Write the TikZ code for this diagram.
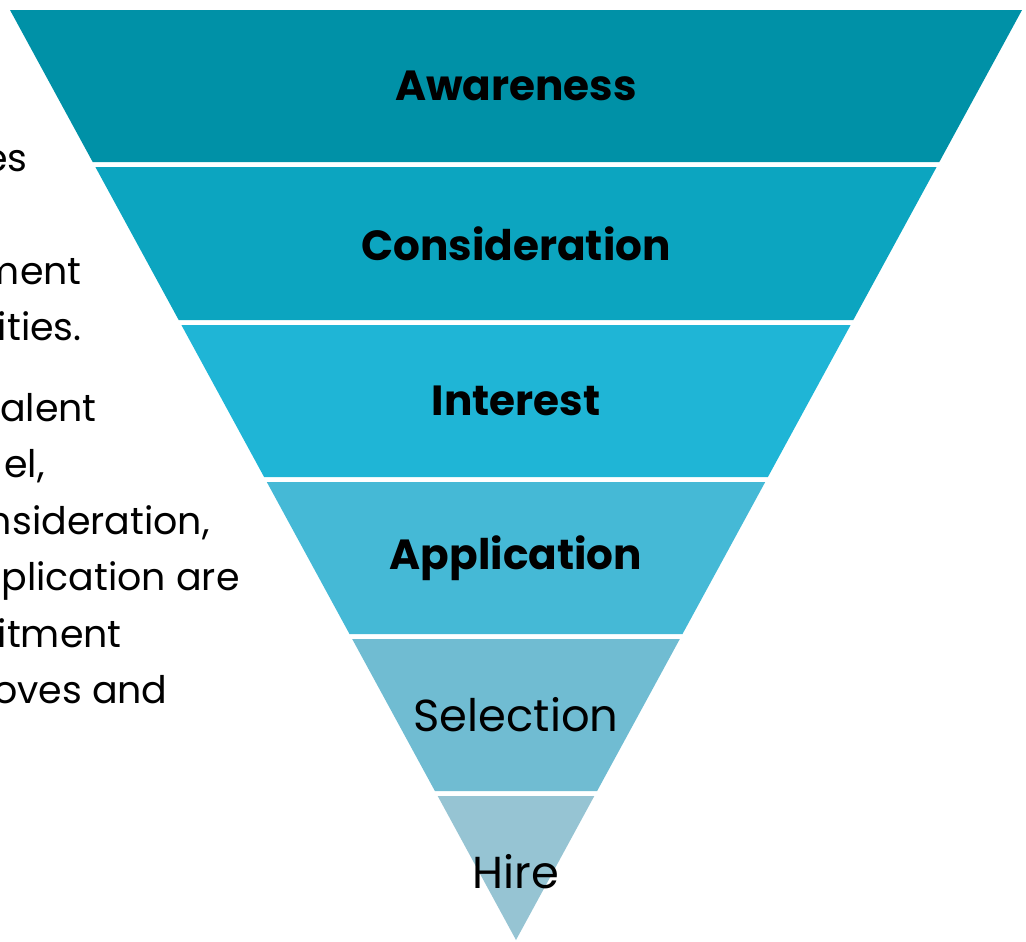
\documentclass[tikz,border=0pt]{standalone}
\usepackage[rgb]{xcolor}
\usepackage{fontspec}
\setmainfont{Poppins}
\usepackage{tikz}

\definecolor{stageA}{RGB}{0,145,167}
\definecolor{stageB}{RGB}{12,165,192}
\definecolor{stageC}{RGB}{31,181,214}
\definecolor{stageD}{RGB}{69,185,214}
\definecolor{stageE}{RGB}{112,188,210}
\definecolor{stageF}{RGB}{150,196,211}

\tikzset{
  stage/.style={font=\fontsize{24}{28}\selectfont\bfseries, text=black, inner sep=0pt},
  stagelight/.style={font=\fontsize{25.5}{30}\selectfont, text=black, inner sep=0pt},
  bodyline/.style={font=\fontsize{21.6}{26}\selectfont, text=black, inner sep=0pt, anchor=base east},
}

\begin{document}
\begin{tikzpicture}[x=0.02cm, y=-0.02cm]

\useasboundingbox (0,0) rectangle (1026,941);

% funnel bands, top to bottom, with thin white gaps in between
\fill[stageA] (10,10) -- (1022,10) -- (939.3,162) -- (92.7,162) -- cycle;
\fill[stageB] (95.4,167) -- (936.6,167) -- (853.3,320) -- (178.7,320) -- cycle;
\fill[stageC] (181.4,325) -- (850.6,325) -- (767.9,477) -- (264.1,477) -- cycle;
\fill[stageD] (266.8,482) -- (765.2,482) -- (682.5,634) -- (349.5,634) -- cycle;
\fill[stageE] (352.2,639) -- (679.8,639) -- (597.1,791) -- (434.9,791) -- cycle;
\fill[stageF] (437.7,796) -- (594.3,796) -- (516,940) -- cycle;

% stage names
\node[stage] (awareness) at (516,86) {Awareness};
\node[stage] (consideration) at (516,243.5) {Consideration};
\node[stage] (interest) at (516,401) {Interest};
\node[stage] (application) at (516,558) {Application};
\node[stagelight] (selection) at (516,715) {Selection};
\node[stagelight] (hire) at (516,872) {Hire};

% text running off the left edge
\node[bodyline] (line1) at (28,171) {es};
\node[bodyline] (line2) at (82,284) {ment};
\node[bodyline] (line3) at (82,340.5) {ities.};
\node[bodyline] (line4) at (97,421) {alent};
\node[bodyline] (line5) at (45,477.5) {el,};
\node[bodyline] (line6) at (210,534) {nsideration,};
\node[bodyline] (line7) at (240,590.5) {plication are};
\node[bodyline] (line8) at (122,647) {itment};
\node[bodyline] (line9) at (168,703.5) {oves and};

\end{tikzpicture}
\end{document}
